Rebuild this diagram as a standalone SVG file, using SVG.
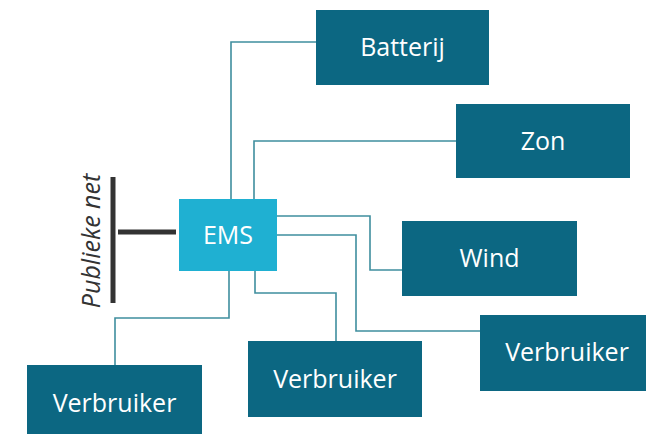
<svg xmlns="http://www.w3.org/2000/svg" width="646" height="434" viewBox="0 0 646 434">
<style>
.box{fill:#0c6782}
.ems{fill:#1fb0d2}
.lbl{font-family:"Open Sans","Liberation Sans",sans-serif;font-size:25px;fill:#ffffff;text-anchor:middle}
.con{fill:none;stroke:#3f8e9e;stroke-width:1.6}
.grid{stroke:#333333;stroke-width:5;fill:none}
</style>
<rect width="646" height="434" fill="#ffffff"/>
<g id="connectors">
<polyline class="con" points="231,199 231,42 316,42"/>
<polyline class="con" points="254,199 254,141 456,141"/>
<polyline class="con" points="277,216 370,216 370,270 402,270"/>
<polyline class="con" points="277,235 356,235 356,331 480,331"/>
<polyline class="con" points="229,271 229,318 115,318 115,365"/>
<polyline class="con" points="255,271 255,293 336,293 336,341"/>
</g>
<g id="publieke-net">
<line class="grid" x1="113" y1="177" x2="113" y2="303"/>
<line class="grid" x1="118" y1="232" x2="176" y2="232"/>
<text transform="translate(99.5,241) rotate(-90)" font-family="'Open Sans','Liberation Sans',sans-serif" font-size="25" font-style="italic" fill="#333333" text-anchor="middle">Publieke net</text>
</g>
<g id="ems">
<rect class="ems" x="179" y="199" width="98" height="72"/>
<text class="lbl" x="228" y="244">EMS</text>
</g>
<g id="batterij">
<rect class="box" x="316" y="10" width="173" height="75"/>
<text class="lbl" x="402.5" y="56">Batterij</text>
</g>
<g id="zon">
<rect class="box" x="456" y="104" width="174" height="74"/>
<text class="lbl" x="543" y="150">Zon</text>
</g>
<g id="wind">
<rect class="box" x="402" y="221" width="175" height="75"/>
<text class="lbl" x="489.5" y="267">Wind</text>
</g>
<g id="verbruiker-right">
<rect class="box" x="480" y="315" width="166" height="76"/>
<text class="lbl" x="567" y="361">Verbruiker</text>
</g>
<g id="verbruiker-middle">
<rect class="box" x="248" y="341" width="174" height="76"/>
<text class="lbl" x="335" y="388">Verbruiker</text>
</g>
<g id="verbruiker-left">
<rect class="box" x="27" y="365" width="175" height="69"/>
<text class="lbl" x="114.5" y="412">Verbruiker</text>
</g>
</svg>
